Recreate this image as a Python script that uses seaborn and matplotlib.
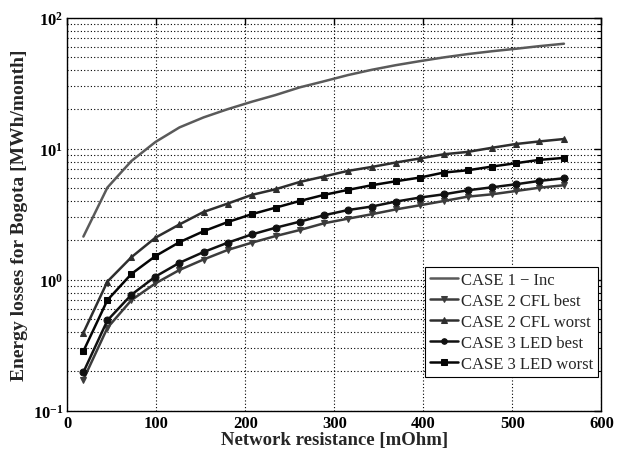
import matplotlib
matplotlib.use("Agg")
import matplotlib.pyplot as plt
import matplotlib.ticker as mticker
import numpy as np
import pandas as pd
import seaborn as sns

# Network resistance values [mOhm]
resistance = [18, 45, 72, 99, 126, 153, 180, 207, 234, 261, 288,
              315, 342, 369, 396, 423, 450, 477, 504, 530, 558]

# Monthly energy losses for Bogota [MWh/month]
case1_inc = [2.14, 5.07, 8.09, 11.3, 14.6, 17.4, 20.1, 22.9, 25.8, 29.5, 32.8,
             36.6, 40.2, 43.6, 46.8, 50.0, 53.0, 55.7, 58.2, 60.9, 63.6]
case2_cfl_best = [0.173, 0.43, 0.70, 0.94, 1.19, 1.43, 1.69, 1.92, 2.16, 2.40, 2.70,
                  2.93, 3.17, 3.45, 3.71, 4.00, 4.32, 4.50, 4.77, 5.05, 5.28]
case2_cfl_worst = [0.394, 0.97, 1.49, 2.10, 2.65, 3.30, 3.82, 4.45, 4.92, 5.59, 6.15,
                   6.79, 7.28, 7.87, 8.45, 9.10, 9.49, 10.2, 10.9, 11.4, 11.9]
case3_led_best = [0.197, 0.49, 0.77, 1.06, 1.35, 1.63, 1.92, 2.22, 2.50, 2.78, 3.11,
                  3.41, 3.63, 3.96, 4.25, 4.50, 4.83, 5.09, 5.37, 5.69, 5.97]
case3_led_worst = [0.285, 0.70, 1.11, 1.52, 1.94, 2.35, 2.76, 3.17, 3.56, 4.00, 4.45,
                   4.86, 5.28, 5.66, 6.04, 6.60, 6.87, 7.33, 7.78, 8.24, 8.54]

series = [
    ("CASE 1 \u2212 Inc", case1_inc, "#5a5a5a", None),
    ("CASE 2 CFL best", case2_cfl_best, "#3c3c3c", "v"),
    ("CASE 2 CFL worst", case2_cfl_worst, "#2e2e2e", "^"),
    ("CASE 3 LED best", case3_led_best, "#111111", "o"),
    ("CASE 3 LED worst", case3_led_worst, "#050505", "s"),
]

sns.set_theme(style="white")
plt.rcParams["font.family"] = ["Liberation Serif", "DejaVu Serif"]
plt.rcParams["mathtext.fontset"] = "stix"

fig = plt.figure(figsize=(6.18, 4.52), dpi=100)
ax = fig.add_axes([0.109, 0.089, 0.864, 0.869])

for name, values, color, marker in series:
    df = pd.DataFrame({"R": resistance, "E": values})
    kw = dict(marker=marker, markersize=5, markerfacecolor=color,
              markeredgecolor=color) if marker else {}
    sns.lineplot(data=df, x="R", y="E", ax=ax, color=color, linewidth=1.8,
                 label=name, **kw)

ax.set_yscale("log")
ax.set_xlim(0, 600)
ax.set_ylim(0.1, 100)
ax.set_xticks([0, 100, 200, 300, 400, 500, 600])
ax.yaxis.set_major_locator(mticker.LogLocator(base=10, numticks=10))
ax.yaxis.set_minor_locator(mticker.LogLocator(base=10, subs=np.arange(2, 10), numticks=10))
ax.yaxis.set_minor_formatter(mticker.NullFormatter())

grid_kw = dict(color="black", linestyle=(0, (1, 2)), linewidth=0.8)
ax.grid(True, which="major", axis="x", **grid_kw)
ax.grid(True, which="both", axis="y", **grid_kw)

for s in ax.spines.values():
    s.set_color("black")
    s.set_linewidth(1.0)

ax.tick_params(which="both", direction="in", top=True, right=True, colors="black")
ax.tick_params(which="major", length=5, width=1.0, labelsize=12, pad=3)
ax.tick_params(which="minor", length=3, width=0.8)
for lbl in ax.get_xticklabels() + ax.get_yticklabels():
    lbl.set_fontweight("bold")

ax.set_xlabel("Network resistance [mOhm]", fontsize=13.5, fontweight="bold", labelpad=0)
ax.set_ylabel("Energy losses for Bogota [MWh/month]", fontsize=14, fontweight="bold", labelpad=3)

leg = ax.legend(loc="lower right", bbox_to_anchor=(0.994, 0.086), fontsize=12,
                frameon=True, fancybox=False, edgecolor="black", framealpha=1.0,
                handlelength=1.7, handletextpad=0.15, borderpad=0.3,
                labelspacing=0.3, borderaxespad=0.0, markerscale=0.8)
leg.get_frame().set_linewidth(0.8)

fig.savefig("out.png", dpi=100)
